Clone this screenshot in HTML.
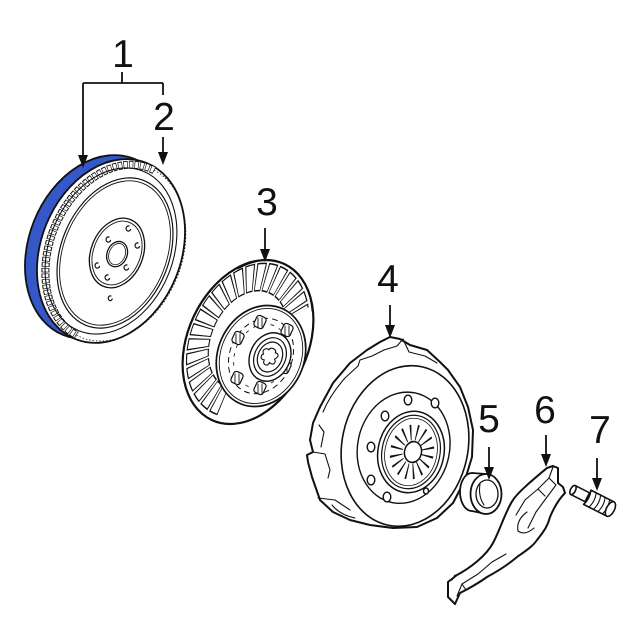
<!DOCTYPE html>
<html><head><meta charset="utf-8"><style>
html,body{margin:0;padding:0;background:#fff;}
svg{display:block;}
text{font-family:"Liberation Sans",Arial,sans-serif;font-size:39px;fill:#111;}
</style></head><body>
<svg width="640" height="640" viewBox="0 0 640 640" xmlns="http://www.w3.org/2000/svg">
<rect width="640" height="640" fill="#fff"/>
<g stroke="#111" stroke-linejoin="round" stroke-linecap="round">

<!-- ===== FLYWHEEL (1,2) ===== -->
<g transform="translate(99,247) rotate(22)">
  <ellipse rx="70" ry="95" fill="#3558c8" stroke-width="1.8"/>
</g>
<g transform="translate(111,251) rotate(22)" fill="none">
  <ellipse rx="70" ry="95" fill="#fff" stroke-width="1.8"/>
  <path d="M10,-91 A66,91 0 0 0 0,91" stroke="#111" stroke-width="8" stroke-dasharray="4.3 1.2" stroke-linecap="butt"/>
  <path d="M10,-91 A66,91 0 0 0 0,91" stroke="#fff" stroke-width="6" stroke-dasharray="3.0 2.5" stroke-dashoffset="-0.65" stroke-linecap="butt"/>
  <path d="M10,-91 A66,91 0 0 1 0,91" stroke-width="0.8" stroke-dasharray="0.8 2.6"/>
  <ellipse rx="62" ry="86" stroke-width="1.1"/>
</g>
<g transform="translate(115,253) rotate(22)" fill="none">
  <ellipse rx="54" ry="78" stroke-width="1.2"/>
  <ellipse rx="51.5" ry="75" stroke-width="0.9"/>
</g>
<g transform="translate(117,253) rotate(22)" fill="none">
  <ellipse rx="26" ry="36" stroke-width="1.3"/>
  <ellipse rx="23.5" ry="33" stroke-width="0.9"/>
  <ellipse cx="0.5" cy="1" rx="10" ry="13" stroke-width="1.3"/>
  <ellipse cx="0.5" cy="1" rx="8" ry="11" stroke-width="0.8"/>
</g>
<g fill="none" stroke-width="1.2">
  <path d="M129,226 a2.3,2.6 0 1 0 1.5,3.5"/>
  <path d="M138,243 a2.3,2.6 0 1 0 1.5,3.5"/>
  <path d="M127,265 a2.3,2.6 0 1 0 1.5,3.5"/>
  <path d="M108,275 a2.3,2.6 0 1 0 1.5,3.5"/>
  <path d="M98,263 a2.3,2.6 0 1 0 1.5,3.5"/>
  <path d="M109,237 a2.3,2.6 0 1 0 1.5,3.5"/>
  <path d="M111,296 a2,2.4 0 1 0 1.2,3"/>
</g>

<!-- ===== CLUTCH DISC (3) ===== -->
<g transform="translate(248,342) rotate(25)" fill="none">
  <ellipse rx="60" ry="86" fill="#fff" stroke-width="2.2"/>
  <path d="M-40,-62 A57.5,83 0 0 1 45,-55" stroke-width="0.9"/>
</g>
<g transform="translate(248,342) rotate(25) scale(60,86)" fill="none">
  <path d="M0.0393,0.749 A0.77,0.77 0 1 1 0.545,-0.545" stroke="#111" stroke-width="0.35" stroke-dasharray="0.125 0.028" stroke-linecap="butt"/>
  <path d="M0.0393,0.749 A0.77,0.77 0 1 1 0.545,-0.545" stroke="#fff" stroke-width="0.315" stroke-dasharray="0.097 0.056" stroke-dashoffset="-0.014" stroke-linecap="butt"/>
</g>
<g transform="translate(261,356) rotate(25)" fill="none">
  <ellipse rx="43" ry="52" fill="#fff" stroke-width="1.7"/>
  <ellipse rx="40" ry="49" stroke-width="0.9"/>
  <ellipse rx="31" ry="39" stroke-width="1" stroke-dasharray="5 5"/>
  <ellipse rx="26" ry="33" stroke-width="0.8" stroke-dasharray="3 6"/>
</g>
<!-- springs -->
<g fill="#fff" stroke-width="1.2">
  <rect x="255" y="316" width="10" height="12" rx="3" transform="rotate(25 260 322)"/>
  <rect x="282" y="324" width="10" height="12" rx="3" transform="rotate(25 287 330)"/>
  <rect x="233" y="332" width="10" height="12" rx="3" transform="rotate(25 238 338)"/>
  <rect x="280" y="361" width="10" height="12" rx="3" transform="rotate(25 285 367)"/>
  <rect x="232" y="372" width="10" height="12" rx="3" transform="rotate(25 237 378)"/>
  <rect x="255" y="382" width="10" height="12" rx="3" transform="rotate(25 260 388)"/>
</g>
<g fill="none" stroke-width="0.9">
  <path d="M258,318 l0,9 M262,318 l0,9 M285,326 l0,9 M289,326 l0,9 M236,334 l0,9 M240,334 l0,9 M283,363 l0,9 M287,363 l0,9 M235,374 l0,9 M239,374 l0,9 M258,384 l0,9 M262,384 l0,9"/>
</g>
<g transform="translate(270,357) rotate(25)" fill="none">
  <ellipse rx="20" ry="25" fill="#fff" stroke-width="1.4"/>
  <ellipse rx="15.5" ry="20" stroke-width="1.2"/>
  <ellipse rx="12" ry="15.5" stroke-width="1.2"/>
  <path d="M0,-9 q3,0 3,3 q3,-1 4,2 q-1,3 -2,4 q3,2 1,5 q-3,1 -4,0 q0,4 -3,4 q-3,0 -3,-4 q-3,1 -4,-1 q-1,-3 1,-4 q-3,-2 -1,-5 q2,-2 4,-1 q0,-3 4,-3z" fill="#fff" stroke-width="1.1"/>
</g>

<!-- ===== PRESSURE PLATE (4) ===== -->
<path d="M390,337 L400,339 L410,345 L427,350 L440,362 L448,370 L460,387 L468,407 L473,430 L472,457 L465,480 L453,503 L437,518 L417,527 L393,528 L370,525 L350,520 L333,512 L320,500 L312,477 L308,462 L307,455 L313,452 L310,440 L313,423 L320,407 L333,383 L350,363 L367,350 L380,342 Z" fill="#fff" stroke-width="2"/>
<g fill="none" stroke-width="1.1">
  <path d="M313,452 L325,454 L330,470 L328,478"/>
  <path d="M319,425 L324,432 L321,447"/>
  <path d="M323,412 Q330,395 345,378 L358,366 L360,360 L372,356 L384,350 L397,346 L403,339"/>
  <path d="M403,339 L409,352 L425,356 L437,363"/>
  <path d="M318,498 L335,500 L350,510"/>
  <path d="M332,505 Q340,515 355,518"/>
</g>
<g transform="translate(405,446) rotate(12)" fill="none">
  <ellipse rx="63" ry="81" stroke-width="1.6"/>
  <ellipse cx="-1" cy="2" rx="46" ry="56" stroke-width="1.4"/>
</g>
<g transform="translate(411,452) rotate(12)" fill="none">
  <ellipse rx="33" ry="41" fill="#fff" stroke-width="1.5"/>
  <ellipse rx="29" ry="37" stroke-width="1.2"/>
  <ellipse rx="26" ry="34" stroke-width="0.8"/>
</g>
<g transform="translate(412,452) rotate(12) scale(26,33)" fill="none">
  <circle r="0.6" stroke="#111" stroke-width="0.48" stroke-dasharray="0.05 0.186" stroke-linecap="butt"/>
</g>
<g transform="translate(413,452) rotate(12)">
  <ellipse rx="8.5" ry="10.5" fill="#fff" stroke-width="1.5"/>
</g>
<g fill="#fff" stroke-width="1.4">
  <ellipse cx="408" cy="400" rx="3.8" ry="4.8"/>
  <ellipse cx="435" cy="403" rx="3.8" ry="4.8"/>
  <ellipse cx="385" cy="416" rx="3.8" ry="4.8"/>
  <ellipse cx="371" cy="447" rx="3.8" ry="4.8"/>
  <ellipse cx="371" cy="480" rx="3.8" ry="4.8"/>
  <ellipse cx="387" cy="497" rx="3.8" ry="4.8"/>
  <ellipse cx="426" cy="491" rx="2.5" ry="3"/>
</g>

<!-- ===== BEARING (5) ===== -->
<g stroke-width="1.8">
  <ellipse cx="472" cy="492" rx="12" ry="19" fill="#fff"/>
  <path d="M472,473 L486,474 L486,514 L472,511 Z" fill="#fff" stroke="none"/>
  <path d="M472,473 L486,474 M472,511 L486,514" fill="none"/>
  <ellipse cx="486" cy="494" rx="15.5" ry="20" fill="#fff"/>
  <ellipse cx="487" cy="494" rx="11" ry="14" fill="none" stroke-width="1.3"/>
  <path d="M480,484 Q478,496 484,505" fill="none" stroke-width="1.1"/>
</g>

<!-- ===== FORK (6) ===== -->
<path d="M547,468 C535,478 518,492 513,500 C506,510 500,530 493,543 C486,556 470,568 457,575 L448,582 L448,597 L455,604 L460,593 C470,588 480,582 487,577 C500,570 510,563 517,557 C527,550 533,546 537,540 C545,530 548,525 550,517 C555,505 560,498 565,493 L563,487 L558,483 L558,468 L553,466 Z" fill="#fff" stroke-width="2"/>
<g fill="none" stroke-width="1.1">
  <path d="M553,467 L549,478 L538,489 L525,500 L516,515"/>
  <path d="M549,478 L556,485 L547,497 L536,512 L528,528"/>
  <path d="M538,489 L545,496"/>
  <path d="M527,512 Q516,520 518,531 Q525,536 534,528"/>
  <path d="M457,596 L462,584 L478,574 L492,562 L506,554"/>
  <path d="M462,584 L466,590"/>
  <path d="M452,580 L455,575"/>
</g>

<!-- ===== STUD (7) ===== -->
<g transform="translate(573,490) rotate(27)" stroke-width="1.6">
  <path d="M0,-5 L16,-5 L16,5 L0,5 Z" fill="#fff"/>
  <ellipse cx="0" cy="0" rx="2.5" ry="5" fill="#fff"/>
  <path d="M16,-8 L42,-8 L42,8 L16,8 Q19,0 16,-8 Z" fill="#fff"/>
  <path d="M22,-8 Q25,0 22,8 M27,-8 Q30,0 27,8 M32,-8 Q35,0 32,8 M37,-8 Q40,0 37,8" fill="none" stroke-width="1.1"/>
  <ellipse cx="42" cy="0" rx="4" ry="8" fill="#fff"/>
</g>

<!-- ===== CALLOUTS ===== -->
<g fill="none" stroke-width="1.8" stroke-linecap="butt">
  <path d="M122,72 L122,83 M83,83 L163,83 M83,83 L83,156 M163,83 L163,95"/>
  <path d="M163,137 L163,153"/>
  <path d="M265,228 L265,250"/>
  <path d="M390,305 L390,326"/>
  <path d="M489,447 L489,468"/>
  <path d="M546,435 L546,455"/>
  <path d="M597,458 L597,479"/>
</g>
<g fill="#111" stroke="none">
  <polygon points="78,155 88,155 83,168"/>
  <polygon points="158,152 168,152 163,165"/>
  <polygon points="260,249 270,249 265,262"/>
  <polygon points="385,325 395,325 390,338"/>
  <polygon points="484,467 494,467 489,480"/>
  <polygon points="541,454 551,454 546,467"/>
  <polygon points="592,478 602,478 597,491"/>
</g>
</g>

<text x="123" y="67" text-anchor="middle">1</text>
<text x="164" y="130" text-anchor="middle">2</text>
<text x="267" y="215" text-anchor="middle">3</text>
<text x="388" y="292" text-anchor="middle">4</text>
<text x="489" y="432" text-anchor="middle">5</text>
<text x="545" y="423" text-anchor="middle">6</text>
<text x="600" y="443" text-anchor="middle">7</text>
</svg>
</body></html>
